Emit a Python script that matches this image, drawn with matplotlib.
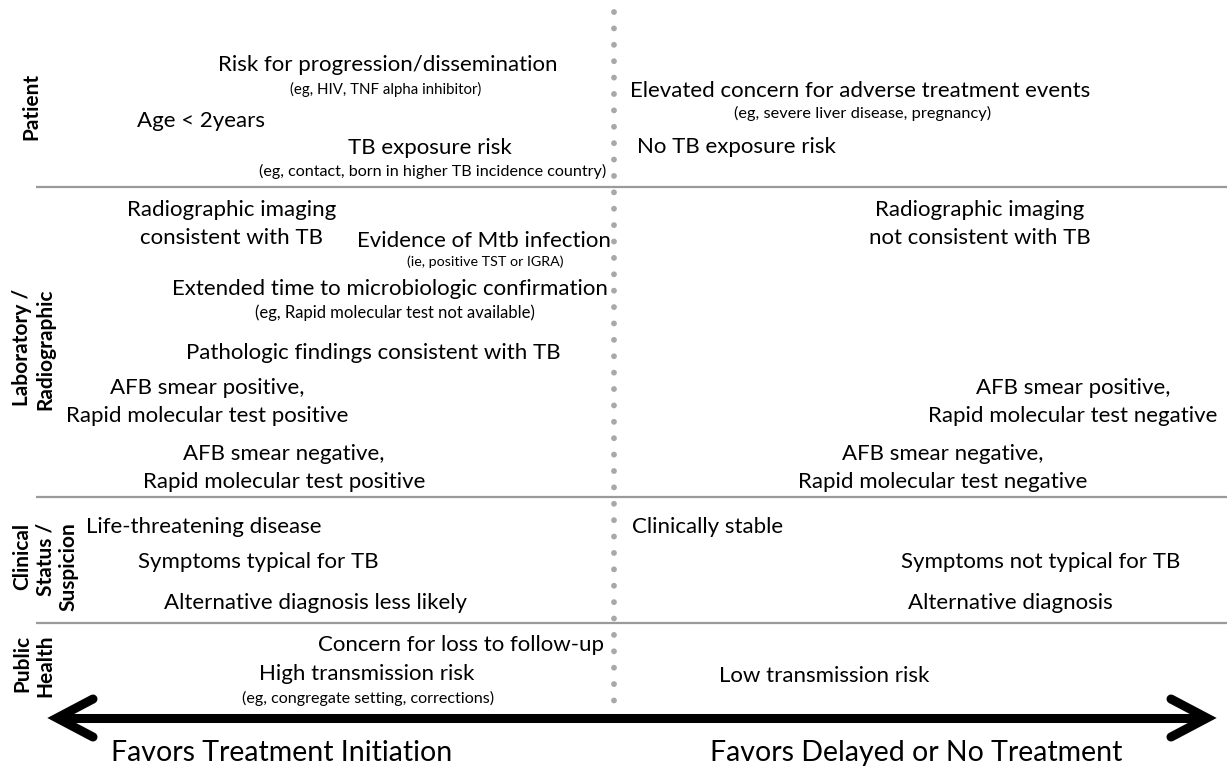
import matplotlib
matplotlib.use("Agg")
import matplotlib.pyplot as plt

plt.rcParams['font.family'] = ['Lato', 'DejaVu Sans']

# sections (rotated labels at the left edge)
sections = ['Patient', 'Laboratory /\nRadiographic', 'Clinical\nStatus /\nSuspicion', 'Public\nHealth']
section_xy = [(31, 106), (34, 349), (45, 567), (34, 666)]
separators_y = [187, 497, 623]

# factors favouring treatment initiation (left of the divider)
left_main = ['Risk for progression/dissemination', 'Age < 2years', 'TB exposure risk',
             'Radiographic imaging\nconsistent with TB', 'Evidence of Mtb infection',
             'Extended time to microbiologic confirmation', 'Pathologic findings consistent with TB',
             'AFB smear positive,\nRapid molecular test positive',
             'AFB smear negative,\nRapid molecular test positive',
             'Life-threatening disease', 'Symptoms typical for TB', 'Alternative diagnosis less likely',
             'Concern for loss to follow-up', 'High transmission risk']
left_main_xy = [(388, 65), (201, 121), (430, 148),
                (232, 224), (484, 241),
                (390, 289), (373, 353),
                (207, 402),
                (284, 468),
                (204, 527), (258, 562), (315, 603),
                (461, 645), (367, 674)]

# factors favouring delayed / no treatment (right of the divider)
right_main = ['Elevated concern for adverse treatment events', 'No TB exposure risk',
              'Radiographic imaging\nnot consistent with TB',
              'AFB smear positive,\nRapid molecular test negative',
              'AFB smear negative,\nRapid molecular test negative',
              'Clinically stable', 'Symptoms not typical for TB', 'Alternative diagnosis',
              'Low transmission risk']
right_main_xy = [(860, 91), (736, 147),
                 (980, 224),
                 (1073, 402),
                 (943, 468),
                 (708, 527), (1041, 562), (1010, 603),
                 (824, 676)]

# small explanatory notes
notes = ['(eg, HIV, TNF alpha inhibitor)', '(eg, contact, born in higher TB incidence country)',
         '(eg, severe liver disease, pregnancy)', '(ie, positive TST or IGRA)',
         '(eg, Rapid molecular test not available)', '(eg, congregate setting, corrections)']
notes_xy = [(386, 89), (433, 171), (863, 113), (485, 262), (395, 313), (368, 698)]
notes_size = [10.8, 11.6, 11.8, 10.3, 12, 11.6]

axis_labels = ['Favors Treatment Initiation', 'Favors Delayed or No Treatment']
axis_labels_xy = [(282, 753), (916, 753)]

fig = plt.figure(figsize=(12.27, 7.7), dpi=100)
ax = fig.add_axes([0, 0, 1, 1])
ax.set_xlim(0, 1227)
ax.set_ylim(770, 0)
ax.axis('off')

# separators
for y in separators_y:
    ax.plot([36, 1227], [y, y], color='#9a9a9a', lw=1.6, solid_capstyle='butt')

# dotted divider
ax.plot([614, 614], [12, 712], color='#a8a8a8', lw=4.2,
        linestyle=(0, (0.01, 2.8)), dash_capstyle='round')

# double-headed arrow
ax.plot([60, 1204], [718, 718], color='black', lw=6.5, solid_capstyle='butt')
ax.plot([93, 57, 93], [699, 718, 737], color='black', lw=6.5,
        solid_joinstyle='miter', solid_capstyle='round')
ax.plot([1171, 1207, 1171], [699, 718, 737], color='black', lw=6.5,
        solid_joinstyle='miter', solid_capstyle='round')

for txt, (x, y) in zip(sections, section_xy):
    ax.text(x, y, txt, rotation=90, ha='center', va='center', fontsize=15,
            fontweight='bold', linespacing=1.2, multialignment='right')

for txt, (x, y) in zip(left_main + right_main, left_main_xy + right_main_xy):
    ax.text(x, y, txt, ha='center', va='center', fontsize=16, linespacing=1.5)

for txt, (x, y), s in zip(notes, notes_xy, notes_size):
    ax.text(x, y, txt, ha='center', va='center', fontsize=s)

for txt, (x, y) in zip(axis_labels, axis_labels_xy):
    ax.text(x, y, txt, ha='center', va='center', fontsize=20.5)

fig.savefig('out.png', dpi=100)
